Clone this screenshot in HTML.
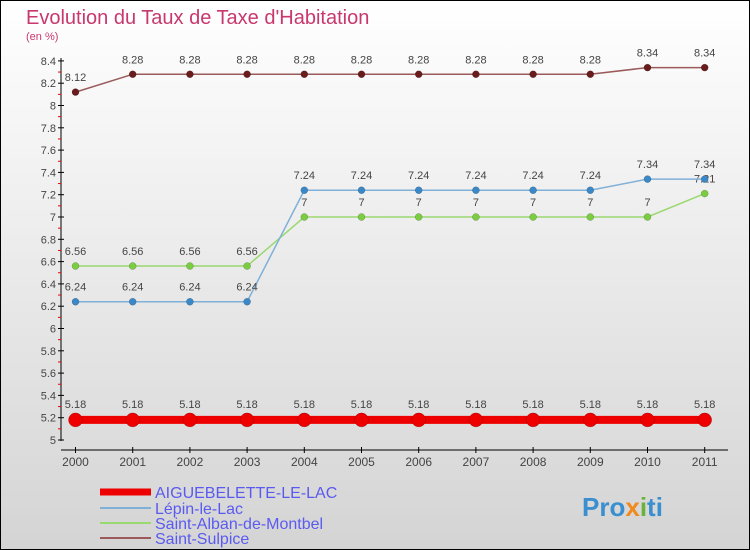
<!DOCTYPE html>
<html><head><meta charset="utf-8"><style>
body{margin:0;width:750px;height:550px;overflow:hidden;font-family:"Liberation Sans",sans-serif}
svg{display:block}
</style></head><body>
<svg width="750" height="550" xmlns="http://www.w3.org/2000/svg">
<defs><linearGradient id="bg" x1="0" y1="0" x2="0" y2="1"><stop offset="0" stop-color="#ffffff"/><stop offset="1" stop-color="#d4d4d4"/></linearGradient></defs>
<rect x="0.5" y="0.5" width="749" height="549" fill="url(#bg)" stroke="#000"/>
<text x="26" y="24" font-size="20" fill="#c8386e">Evolution du Taux de Taxe d'Habitation</text>
<text x="26" y="40" font-size="11" fill="#c8386e">(en %)</text>
<g id="axes"></g><g id="series"></g><g id="legend"></g>
<text x="582" y="516" font-size="26" font-weight="bold" fill="#3a8fd0">Pro<tspan fill="#f08a1c">x</tspan><tspan fill="#6ab23a">i</tspan>ti</text>
</svg>
<script>
const years=[2000,2001,2002,2003,2004,2005,2006,2007,2008,2009,2010,2011];
const aigue=[5.18,5.18,5.18,5.18,5.18,5.18,5.18,5.18,5.18,5.18,5.18,5.18];
const lepin=[6.24,6.24,6.24,6.24,7.24,7.24,7.24,7.24,7.24,7.24,7.34,7.34];
const alban=[6.56,6.56,6.56,6.56,7,7,7,7,7,7,7,7.21];
const sulpice=[8.12,8.28,8.28,8.28,8.28,8.28,8.28,8.28,8.28,8.28,8.34,8.34];
const yTicks=[5,5.2,5.4,5.6,5.8,6,6.2,6.4,6.6,6.8,7,7.2,7.4,7.6,7.8,8,8.2,8.4];
const NS="http://www.w3.org/2000/svg";
const xs=i=>75.5+i*57.2;
const ys=v=>440-(v-5)*111.5;
function mk(p,tag,a){const e=document.createElementNS(NS,tag);for(const k in a)e.setAttribute(k,a[k]);p.appendChild(e);return e;}
const ax=document.getElementById('axes');
let e=mk(ax,'line',{x1:61,y1:58,x2:61,y2:441,stroke:'#000'});


e=mk(ax,'line',{x1:61,y1:450,x2:728,y2:450,stroke:'#000'});


yTicks.forEach((t,i)=>{
  const y=ys(t);
  mk(ax,'line',{x1:58,y1:y,x2:64,y2:y,stroke:'#000'});
  if(i<yTicks.length-1){const ym=(y+ys(yTicks[i+1]))/2;mk(ax,'line',{x1:58,y1:ym,x2:61,y2:ym,stroke:'#e00'});}
  const tx=mk(ax,'text',{x:56,y:y+4,'font-size':11,fill:'#444','text-anchor':'end'});tx.textContent=String(parseFloat(t.toFixed(1)));
  
  
});
years.forEach((yr,i)=>{
  mk(ax,'line',{x1:xs(i),y1:447,x2:xs(i),y2:453,stroke:'#000'});
  const tx=mk(ax,'text',{x:xs(i),y:466,'font-size':12,fill:'#444','text-anchor':'middle'});tx.textContent=yr;
  
  
});
const ser=document.getElementById('series');
function draw(name,vals,color,dot,w,r,off){
  const g=mk(ser,'g',{});
  
  
  mk(g,'polyline',{points:vals.map((v,i)=>xs(i)+','+ys(v)).join(' '),fill:'none',stroke:color,'stroke-width':w});
  vals.forEach((v,i)=>{
    const c=mk(g,'circle',{cx:xs(i),cy:ys(v),r:r,fill:dot,stroke:'rgba(0,0,0,0.3)','stroke-width':0.5});
    
    
    const t=mk(g,'text',{x:xs(i),y:ys(v)-off,'font-size':11,fill:'#444','text-anchor':'middle'});t.textContent=String(v);
    
    
  });
}
draw('series-saint-sulpice',sulpice,'#9a5a5a','#6a1c1c',1.5,3.5,11);
draw('series-saint-alban',alban,'#9ad870','#7acc40',1.5,3.5,11);
draw('series-lepin',lepin,'#7fb0d8','#3a88c8',1.5,3.5,11);
draw('series-aiguebelette',aigue,'#ee0000','#ee0000',8,7,12);
const lg=document.getElementById('legend');
const leg=[['AIGUEBELETTE-LE-LAC','#ee0000',7,492],['Lépin-le-Lac','#7fb0d8',2,508],['Saint-Alban-de-Montbel','#9ad870',2,523],['Saint-Sulpice','#9a5a5a',2,538]];
leg.forEach(l=>{
  const g=mk(lg,'g',{});
  
  
  mk(g,'line',{x1:100,y1:l[3],x2:151,y2:l[3],stroke:l[1],'stroke-width':l[2]});
  const t=mk(g,'text',{x:155,y:l[3]+6,'font-size':16,fill:'#5a5af0'});t.textContent=l[0];
});
</script>
</body></html>
